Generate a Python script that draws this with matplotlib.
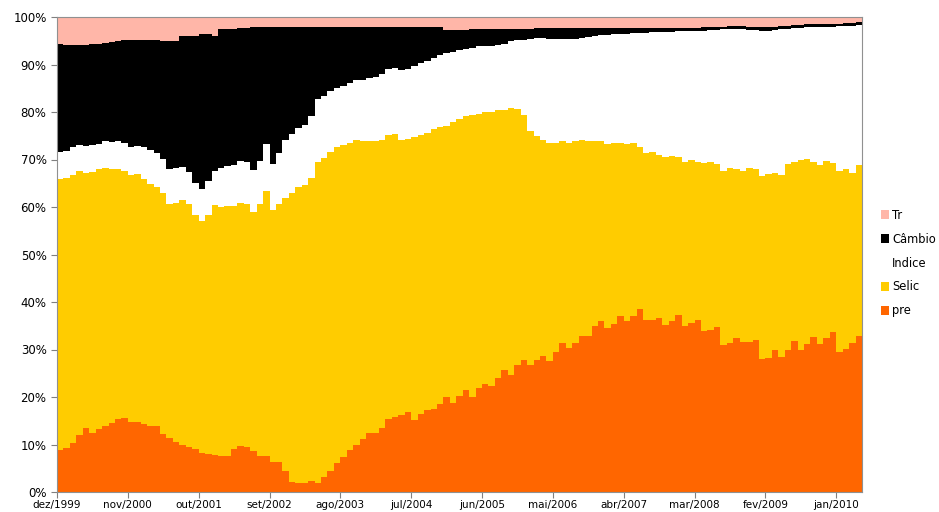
import numpy as np
import matplotlib.pyplot as plt

# monthly series, dez/1999 .. abr/2010 (125 months), cumulative stacked levels in %
pre = [8.9, 9.3, 10.3, 12.1, 13.5, 12.5, 13.3, 13.8, 14.6, 15.3,
       15.6, 14.7, 14.7, 14.3, 13.8, 14.0, 12.3, 11.4, 10.5, 10.0,
       9.5, 9.1, 8.3, 8.0, 7.7, 7.5, 7.5, 9.1, 9.7, 9.5,
       8.6, 7.6, 7.6, 6.4, 6.4, 4.4, 2.1, 2.0, 2.0, 2.3,
       1.9, 3.2, 4.4, 6.2, 7.4, 8.8, 9.8, 11.2, 12.4, 12.5,
       13.5, 15.4, 15.7, 16.3, 16.8, 15.1, 16.5, 17.3, 17.4, 18.6,
       20.0, 18.7, 20.2, 21.5, 20.1, 22.0, 22.8, 22.3, 23.9, 25.7,
       24.6, 26.8, 27.8, 26.7, 27.8, 28.6, 27.5, 29.5, 31.4, 30.3,
       31.4, 32.8, 32.8, 35.0, 35.9, 34.5, 35.4, 37.1, 36.1, 37.0,
       38.6, 36.3, 36.3, 36.7, 35.2, 36.1, 37.2, 34.9, 35.6, 36.2,
       34.0, 34.2, 34.7, 30.9, 31.4, 32.4, 31.5, 31.6, 31.9, 28.1,
       28.3, 30.0, 28.5, 29.8, 31.7, 30.0, 31.2, 32.6, 31.2, 32.4,
       33.7, 29.5, 30.2, 31.4, 32.9]

ate_selic = [65.8, 66.2, 66.7, 67.5, 67.2, 67.4, 68.0, 68.2, 68.0, 68.0,
             67.5, 66.7, 66.9, 65.8, 64.8, 64.2, 62.9, 60.7, 60.8, 61.5,
             60.6, 58.4, 57.0, 58.4, 60.5, 60.1, 60.2, 60.2, 60.8, 60.6,
             58.9, 60.6, 63.4, 59.4, 60.6, 61.9, 62.9, 64.2, 64.6, 66.2,
             69.5, 70.4, 71.5, 72.6, 73.1, 73.5, 74.1, 74.0, 73.8, 73.8,
             74.2, 75.2, 75.4, 74.2, 74.4, 74.8, 75.1, 75.6, 76.4, 76.8,
             77.1, 78.0, 78.6, 79.1, 79.3, 79.6, 79.9, 80.1, 80.4, 80.5,
             80.8, 80.7, 79.4, 76.1, 74.9, 74.2, 73.5, 73.5, 73.8, 73.4,
             73.9, 74.1, 74.0, 73.9, 73.8, 73.3, 73.5, 73.5, 73.2, 73.5,
             72.6, 71.4, 71.6, 70.9, 70.5, 70.7, 70.5, 69.5, 70.0, 69.4,
             69.2, 69.5, 69.0, 67.6, 68.2, 68.0, 67.6, 68.2, 67.9, 66.5,
             66.9, 67.1, 66.7, 69.1, 69.5, 69.8, 70.1, 69.5, 68.8, 69.6,
             69.3, 67.6, 67.9, 67.2, 68.8]

ate_indice = [71.6, 71.7, 72.6, 73.1, 72.8, 73.0, 73.3, 73.8, 73.6, 73.8,
              73.4, 72.7, 72.8, 72.7, 72.1, 71.3, 70.2, 68.1, 68.3, 68.4,
              67.3, 65.0, 63.7, 65.4, 67.5, 68.2, 68.7, 68.8, 69.7, 69.5,
              67.8, 69.6, 73.3, 69.0, 71.3, 74.2, 75.3, 76.6, 77.2, 79.1,
              82.7, 83.4, 84.4, 85.0, 85.5, 86.2, 86.8, 86.8, 87.2, 87.3,
              87.9, 89.0, 89.3, 88.9, 89.1, 89.7, 90.3, 90.8, 91.4, 92.1,
              92.4, 92.6, 93.0, 93.2, 93.5, 93.8, 93.8, 94.0, 94.2, 94.4,
              94.9, 95.2, 95.2, 95.4, 95.6, 95.6, 95.4, 95.4, 95.3, 95.3,
              95.4, 95.6, 95.8, 96.1, 96.3, 96.3, 96.4, 96.4, 96.5, 96.6,
              96.7, 96.7, 96.8, 96.8, 96.8, 96.9, 97.0, 97.0, 97.0, 97.1,
              97.1, 97.2, 97.3, 97.4, 97.4, 97.5, 97.5, 97.3, 97.2, 97.1,
              97.1, 97.2, 97.4, 97.5, 97.6, 97.7, 97.8, 97.9, 97.9, 98.0,
              98.0, 98.1, 98.1, 98.2, 98.3]

ate_cambio = [94.3, 94.2, 94.2, 94.2, 94.2, 94.4, 94.4, 94.5, 94.7, 94.9,
              95.1, 95.1, 95.1, 95.1, 95.2, 95.2, 94.9, 94.9, 94.9, 96.0,
              96.0, 96.1, 96.4, 96.4, 96.1, 97.4, 97.5, 97.5, 97.6, 97.7,
              97.8, 98.0, 98.0, 97.8, 97.9, 97.9, 97.9, 97.9, 97.9, 97.9,
              97.9, 98.0, 98.0, 98.0, 98.0, 98.0, 98.0, 98.0, 98.0, 98.0,
              98.0, 98.0, 98.0, 98.0, 98.0, 98.0, 98.0, 98.0, 98.0, 98.0,
              97.3, 97.3, 97.3, 97.3, 97.4, 97.4, 97.4, 97.4, 97.5, 97.5,
              97.5, 97.5, 97.5, 97.5, 97.6, 97.6, 97.6, 97.6, 97.6, 97.6,
              97.6, 97.6, 97.6, 97.6, 97.6, 97.6, 97.6, 97.6, 97.6, 97.6,
              97.6, 97.6, 97.6, 97.6, 97.6, 97.6, 97.7, 97.7, 97.7, 97.7,
              97.8, 97.9, 97.9, 98.0, 98.1, 98.2, 98.2, 97.9, 97.8, 97.8,
              97.8, 98.0, 98.1, 98.2, 98.3, 98.4, 98.5, 98.5, 98.5, 98.5,
              98.5, 98.6, 98.7, 98.8, 98.9]

tick_labels = ['dez/1999', 'nov/2000', 'out/2001', 'set/2002', 'ago/2003', 'jul/2004',
               'jun/2005', 'mai/2006', 'abr/2007', 'mar/2008', 'fev/2009', 'jan/2010']

levels = [np.zeros(len(pre)), np.array(pre), np.array(ate_selic),
          np.array(ate_indice), np.array(ate_cambio), np.full(len(pre), 100.0)]
names = ['pre', 'Selic', 'Indice', 'Câmbio', 'Tr']
colors = ['#FF6600', '#FFCC00', '#FFFFFF', '#000000', '#FFB6A8']

fig = plt.figure(figsize=(9.39, 5.12), dpi=100)
ax = fig.add_axes([57/939, 20/512, 805/939, 475/512])

x = np.arange(len(pre))
handles = []
for k in range(5):
    h = ax.bar(x, levels[k+1] - levels[k], bottom=levels[k], width=1.0, align='edge',
               color=colors[k], linewidth=0, antialiased=False, label=names[k])
    handles.append(h)

ax.set_xlim(0, len(pre))
ax.set_ylim(0, 100)
ax.set_yticks(np.arange(0, 101, 10))
ax.set_yticklabels([f'{v}%' for v in range(0, 101, 10)], fontsize=8.5)
ax.set_xticks(np.arange(0, 11*len(tick_labels), 11))
ax.set_xticklabels(tick_labels, fontsize=7.5)
ax.tick_params(axis='both', colors='#808080', length=4, width=0.8, labelcolor='black')
ax.tick_params(axis='x', pad=2)
for s in ax.spines.values():
    s.set_color('#909090')
    s.set_linewidth(0.8)

leg = fig.legend(handles[::-1], names[::-1], loc='upper left', bbox_to_anchor=(876/939, 1 - 204/512),
                 frameon=False, fontsize=8.3, handlelength=0.75, handleheight=0.75,
                 handletextpad=0.25, labelspacing=0.95, borderaxespad=0)

fig.savefig('out.png', dpi=100)
